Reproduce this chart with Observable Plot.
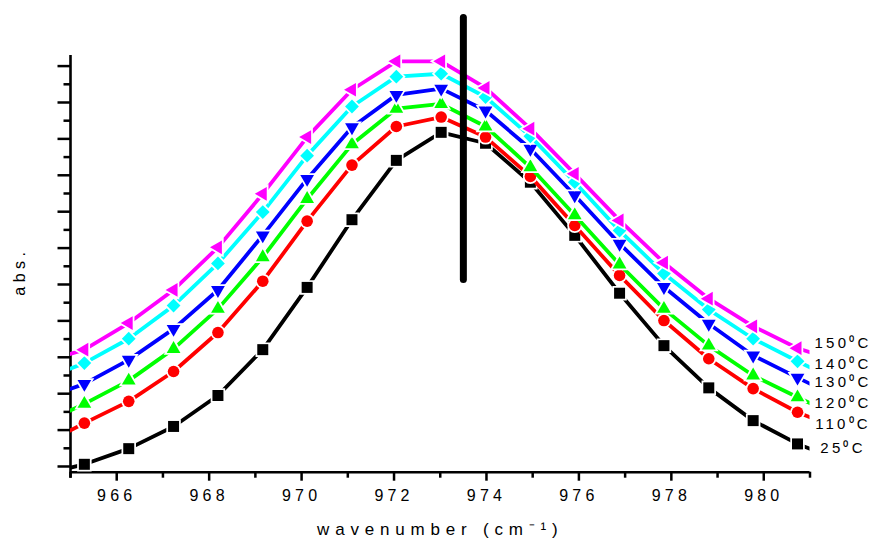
<!DOCTYPE html>
<html>
<head>
<meta charset="utf-8">
<script src="https://cdn.jsdelivr.net/npm/d3@7"></script>
<script src="https://cdn.jsdelivr.net/npm/@observablehq/plot@0.6"></script>
<style>
  body { margin: 0; background: #fff; }
  #chart svg { display: block; }
  g[aria-label="x-axis tick label"] text { letter-spacing: 4.2px; }
  .series-labels text { letter-spacing: 3.2px; }
  .xlabel text { letter-spacing: 5.8px; }
  .ylabel text { letter-spacing: 4.5px; }
  .markers path { paint-order: stroke; }
</style>
</head>
<body>
<div id="chart"></div>
<script>
// ---- data ----
const wavenumber = [964.34, 965.30, 966.26, 967.23, 968.19, 969.16, 970.12, 971.09, 972.05, 973.02,
                    973.98, 974.95, 975.91, 976.88, 977.84, 978.81, 979.77, 980.73, 981.70];
const temperatures = ["25", "110", "120", "130", "140", "150"];
const abs25  = [-0.023, 0.006, 0.049, 0.110, 0.195, 0.321, 0.492, 0.678, 0.841, 0.918, 0.888, 0.781, 0.635, 0.476, 0.332, 0.216, 0.126, 0.062, 0.014];
const abs110 = [0.056, 0.119, 0.179, 0.261, 0.368, 0.509, 0.674, 0.828, 0.934, 0.960, 0.905, 0.797, 0.662, 0.525, 0.401, 0.296, 0.214, 0.149, 0.100];
const abs120 = [0.115, 0.172, 0.236, 0.323, 0.433, 0.575, 0.735, 0.885, 0.983, 0.996, 0.934, 0.822, 0.690, 0.555, 0.433, 0.332, 0.250, 0.190, 0.132];
const abs130 = [0.184, 0.227, 0.293, 0.378, 0.485, 0.635, 0.790, 0.932, 1.021, 1.038, 0.978, 0.873, 0.745, 0.612, 0.493, 0.392, 0.305, 0.244, 0.184];
const abs140 = [0.236, 0.284, 0.351, 0.442, 0.558, 0.699, 0.854, 0.989, 1.071, 1.079, 1.015, 0.907, 0.781, 0.648, 0.530, 0.431, 0.351, 0.289, 0.230];
const abs150 = [0.284, 0.321, 0.394, 0.485, 0.602, 0.749, 0.905, 1.035, 1.113, 1.113, 1.040, 0.928, 0.804, 0.676, 0.560, 0.461, 0.385, 0.325, 0.285];
const seriesValues = [abs25, abs110, abs120, abs130, abs140, abs150];
const labelValues = [0.049, 0.117, 0.175, 0.232, 0.282, 0.339];

const xDomain = [965, 981];
const yDomain = [-0.0157, 1.1291];
const xMajorTicks = [966, 968, 970, 972, 974, 976, 978, 980];
const xMinorTicks = [965, 967, 969, 971, 973, 975, 977, 979, 981];
const yMajorTicks = [0, 0.1, 0.2, 0.3, 0.4, 0.5, 0.6, 0.7, 0.8, 0.9, 1.0, 1.1];
const yMinorTicks = [0.05, 0.15, 0.25, 0.35, 0.45, 0.55, 0.65, 0.75, 0.85, 0.95, 1.05];
const markerLineX = 973.5;
const markerLineSpan = [0.512, 1.232];

// ---- styles ----
const seriesColors = ["#000000", "#ff0000", "#00ff00", "#0000ff", "#00ffff", "#ff00ff"];
const seriesSymbols = ["square", "circle", "triangle", "triangle", "diamond2", "triangle"];
const symbolRotate = [0, 0, 0, 180, 0, -90];
const symbolR = [6.2, 5.8, 5.1, 5.1, 6.2, 5.1];

const marks = [];
// axis lines
marks.push(Plot.ruleY([yDomain[0]], {strokeWidth: 2.6}));
marks.push(Plot.ruleX([xDomain[0]], {strokeWidth: 2.6, insetBottom: -6}));
// ticks
marks.push(Plot.axisX(xMajorTicks, {tickSize: 9, tickPadding: 8.2, fontSize: 16, strokeWidth: 2.5, tickFormat: d => String(d), label: null}));
marks.push(Plot.axisX(xMinorTicks, {tickSize: 6, strokeWidth: 2.5, tickFormat: () => "", label: null}));
marks.push(Plot.axisY(yMajorTicks, {tickSize: 12.5, strokeWidth: 2.5, tickFormat: () => "", label: null}));
marks.push(Plot.axisY(yMinorTicks, {tickSize: 6.5, strokeWidth: 2.5, tickFormat: () => "", label: null}));

// series
temperatures.forEach((t, i) => {
  const rows = wavenumber.map((w, j) => ({w, a: seriesValues[i][j]}));
  marks.push(Plot.line(rows, {x: "w", y: "a", stroke: seriesColors[i], strokeWidth: 3.8, clip: true}));
  marks.push(Plot.dot(rows.filter(d => d.w >= xDomain[0] && d.w <= xDomain[1]), {
    x: "w", y: "a", symbol: seriesSymbols[i], r: symbolR[i], rotate: symbolRotate[i],
    fill: seriesColors[i], stroke: "white", strokeWidth: 3.5, paintOrder: "stroke", className: "markers"
  }));
});

// vertical marker line
marks.push(Plot.ruleX([markerLineX], {y1: markerLineSpan[0], y2: markerLineSpan[1], strokeWidth: 7, strokeLinecap: "round"}));

// series labels
marks.push(Plot.text(temperatures, {
  x: () => xDomain[1], y: (d, i) => labelValues[i], text: d => `${d}⁰C`,
  dx: 33, fontSize: 15, textAnchor: "middle", lineAnchor: "middle", className: "series-labels"
}));

// axis titles
marks.push(Plot.text(["wavenumber (cm⁻¹)"], {frameAnchor: "bottom", dy: 57.8, fontSize: 17, textAnchor: "middle", lineAnchor: "middle", className: "xlabel"}));
marks.push(Plot.text(["abs."], {frameAnchor: "left", dx: -51, dy: 7.7, rotate: -90, fontSize: 16, textAnchor: "middle", lineAnchor: "middle", className: "ylabel"}));

const chart = Plot.plot({
  width: 875,
  height: 541,
  marginTop: 55,
  marginRight: 65.5,
  marginBottom: 69.3,
  marginLeft: 70,
  style: {fontFamily: "'Liberation Sans', Arial, sans-serif", background: "white", color: "black"},
  x: {domain: xDomain, axis: null},
  y: {domain: yDomain, axis: null},
  marks
});
document.getElementById("chart").appendChild(chart);
</script>
</body>
</html>
